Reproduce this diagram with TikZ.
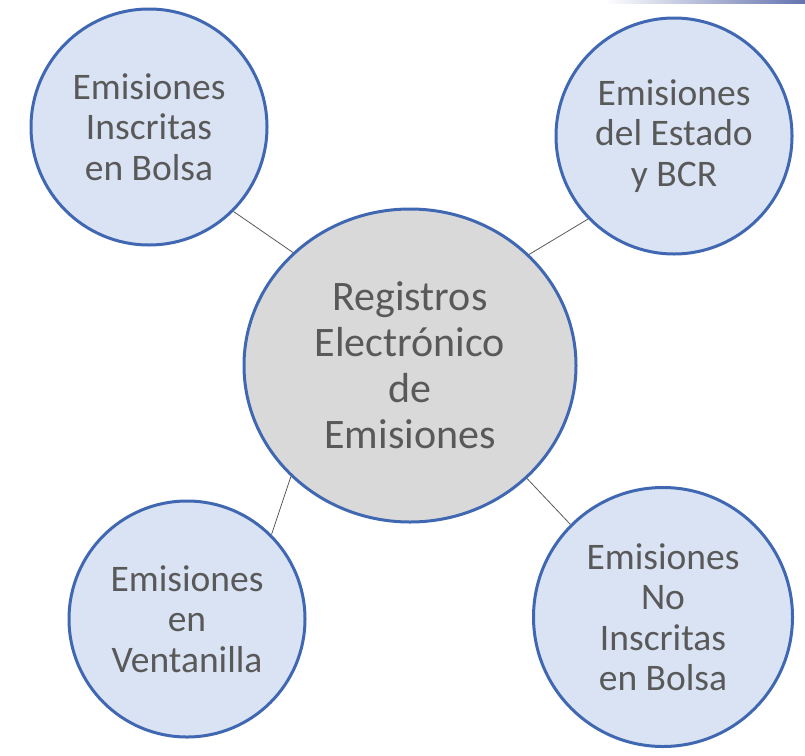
\documentclass[tikz,border=0pt]{standalone}
\usepackage{fontspec}
\setmainfont{Carlito}
\usetikzlibrary{shapes.geometric}
\definecolor{txt}{HTML}{595959}
\definecolor{ring}{HTML}{4068B2}
\definecolor{bub}{HTML}{DAE3F3}
\definecolor{hub}{HTML}{D9D9D9}
\definecolor{bar}{RGB}{100,115,175}
\begin{document}
\begin{tikzpicture}[x=1pt,y=-1pt,
  bubble/.style={circle,draw=ring,line width=3pt,fill=bub,inner sep=0pt,
    minimum size=236pt,align=center,text=txt,
    font=\fontsize{37.5}{40.5}\selectfont},
  hubnode/.style={ellipse,draw=ring,line width=3pt,fill=hub,inner sep=0pt,
    minimum width=332pt,minimum height=313pt,align=center,text=txt,
    font=\fontsize{42}{46}\selectfont},
  link/.style={draw=txt,line width=0.8pt}]
\useasboundingbox (0,0) rectangle (805,755);
\fill[left color=white,right color=bar] (605,0) rectangle (805,3);
\node[hubnode] (c) at (410,365.5) {Registros\\Electrónico\\de\\Emisiones};
\node[bubble] (tl) at (149,127) {Emisiones\\Inscritas\\en Bolsa};
\node[bubble] (tr) at (674,136) {Emisiones\\del Estado\\y BCR};
\node[bubble] (bl) at (187,619) {Emisiones\\en\\Ventanilla};
\node[bubble,minimum size=259pt] (br) at (663,617) {Emisiones\\No\\Inscritas\\en Bolsa};
\draw[link] (c.136.4) -- (tl.315);
\draw[link] (c.43.6) -- (tr.224.3);
\draw[link] (c.223.4) -- (bl.45.3);
\draw[link] (c.316.4) -- (br.135.6);
\end{tikzpicture}
\end{document}
